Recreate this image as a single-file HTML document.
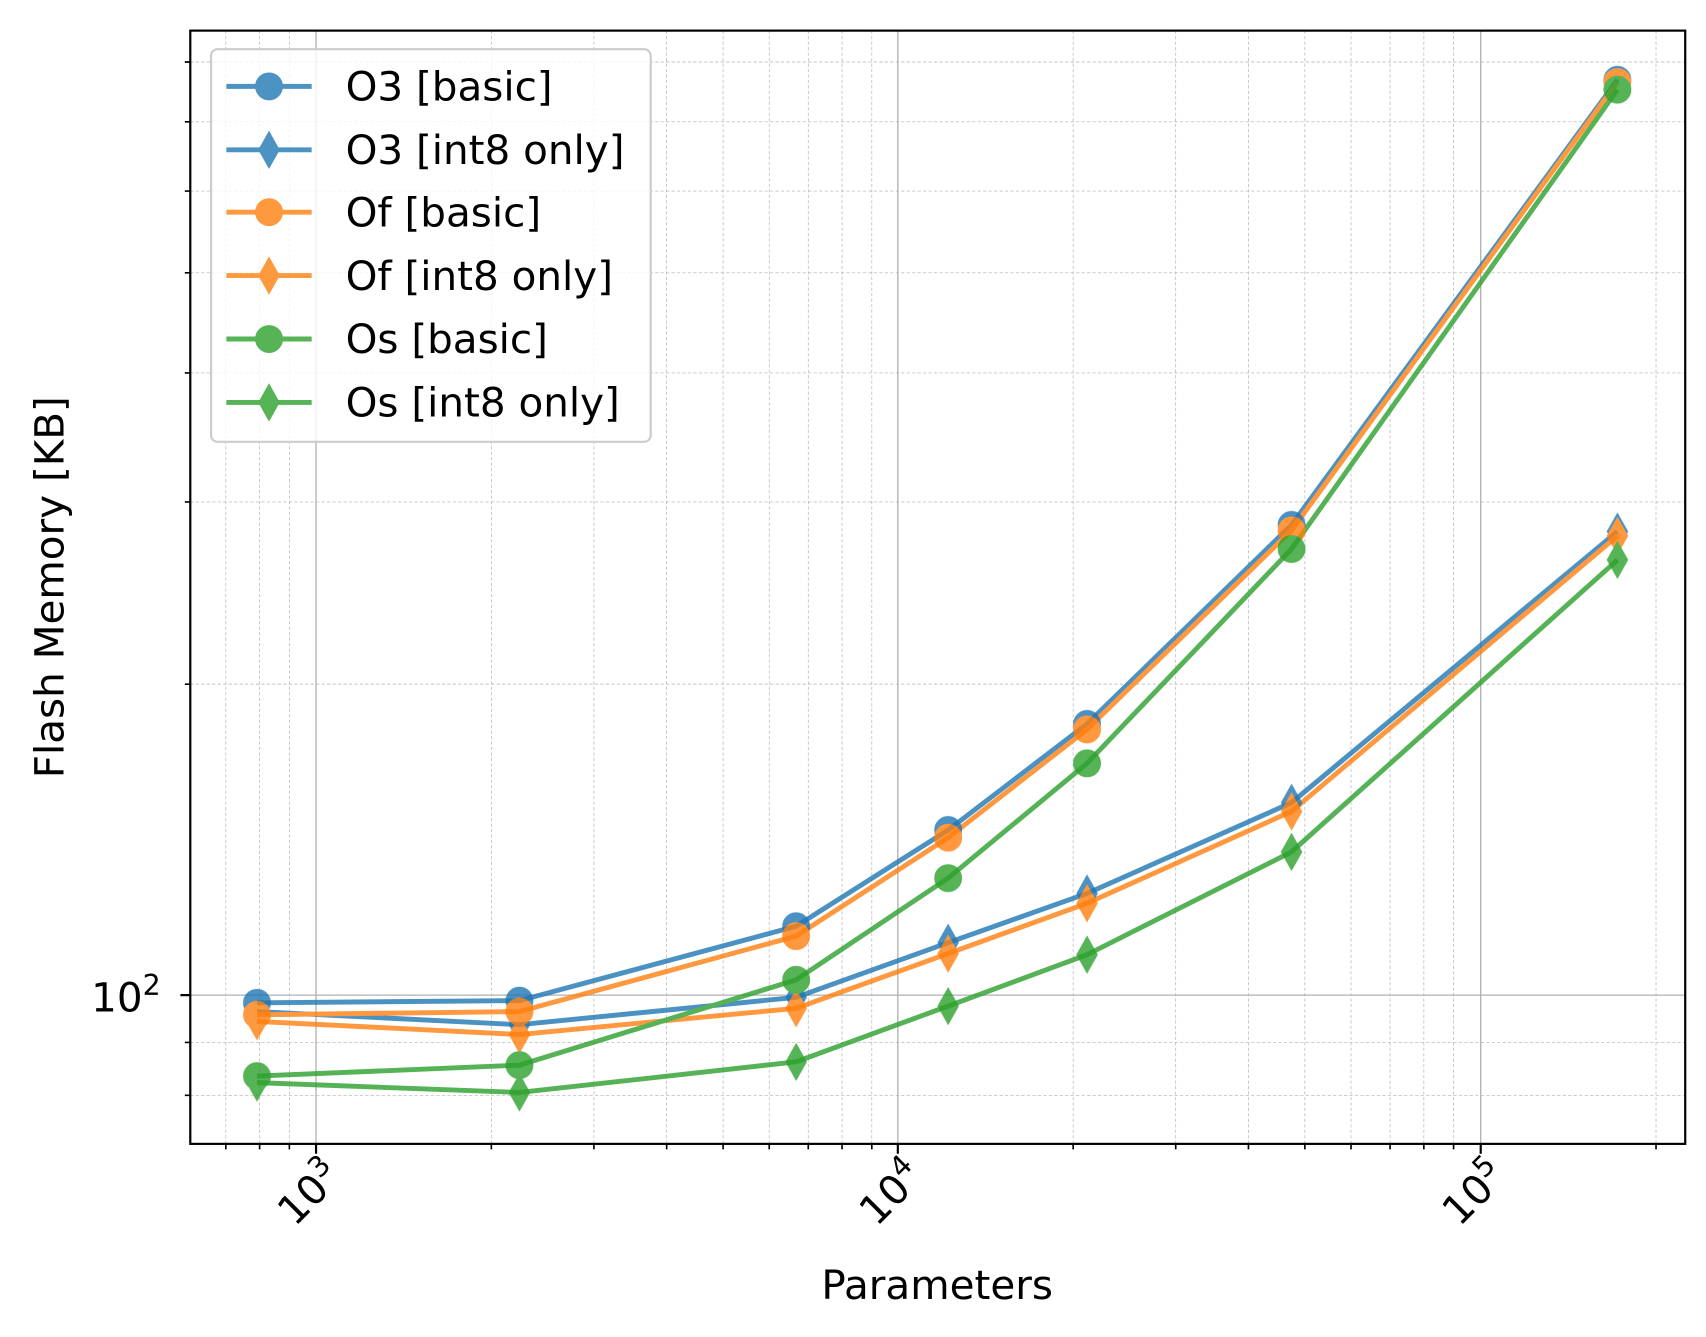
<!DOCTYPE html>
<html><head><meta charset="utf-8"><style>html,body{margin:0;padding:0;background:#fff}svg{display:block}</style></head>
<body>
<svg width="1706" height="1337" viewBox="0 0 1560 1222.6" preserveAspectRatio="none" xmlns="http://www.w3.org/2000/svg" font-family="DejaVu Sans, Liberation Sans, sans-serif">
<defs>
<clipPath id="c"><rect x="174" y="28" width="1367" height="1018"/></clipPath>
<g id="ci"><circle r="12"/></g>
<g id="di"><path d="M0,-16 L9,0 L0,16 L-9,0 Z"/></g>
</defs>
<rect width="1560" height="1222.6" fill="#fff"/>
<g stroke="#b0b0b0" stroke-width="0.6" stroke-dasharray="3,2" fill="none">
<path d="M206.5,28V1046M237.4,28V1046M264.6,28V1046
M449.3,28V1046M543.1,28V1046M609.6,28V1046M661.2,28V1046M703.4,28V1046M739.1,28V1046M770,28V1046M797.2,28V1046
M981.3,28V1046M1075.1,28V1046M1141.6,28V1046M1193.2,28V1046M1235.4,28V1046M1271.1,28V1046M1302,28V1046M1329.2,28V1046
M1514.3,28V1046"/>
<path d="M174,1001.6H1541M174,953.2H1541M174,625.6H1541M174,459H1541M174,341H1541M174,249.5H1541M174,174.7H1541M174,111.4H1541M174,56.7H1541"/>
</g>
<g stroke="#b0b0b0" stroke-width="1.2" fill="none">
<path d="M289,28V1046M821,28V1046M1354,28V1046M174,910H1541"/>
</g>
<g clip-path="url(#c)" stroke-width="4.5" stroke-linejoin="round" fill="none" opacity="0.8">
<g stroke="#1f77b4">
<polyline points="235,917 475,915 728,847 867,759 994,662 1181,480 1479,73"/>
<polyline points="235,925 475,937 728,912 867,862 994,817 1181,734 1479,486"/>
</g>
<g stroke="#ff7f0e">
<polyline points="235,928 475,925 728,856 867,766 994,667 1181,485 1479,75"/>
<polyline points="235,934 475,946 728,922 867,872 994,826 1181,742 1479,490"/>
</g>
<g stroke="#2ca02c">
<polyline points="235,984 475,974 728,896 867,803 994,698 1181,502 1479,82"/>
<polyline points="235,990 475,999 728,971 867,920 994,873 1181,779 1479,512"/>
</g>
</g>
<g clip-path="url(#c)" opacity="0.8" stroke-width="1.5">
<g fill="#1f77b4" stroke="#1f77b4">
<use href="#ci" x="235" y="917"/><use href="#ci" x="475" y="915"/><use href="#ci" x="728" y="847"/><use href="#ci" x="867" y="759"/><use href="#ci" x="994" y="662"/><use href="#ci" x="1181" y="480"/><use href="#ci" x="1479" y="73"/>
<use href="#di" x="235" y="925"/><use href="#di" x="475" y="937"/><use href="#di" x="728" y="912"/><use href="#di" x="867" y="862"/><use href="#di" x="994" y="817"/><use href="#di" x="1181" y="734"/><use href="#di" x="1479" y="486"/>
</g>
<g fill="#ff7f0e" stroke="#ff7f0e">
<use href="#ci" x="235" y="928"/><use href="#ci" x="475" y="925"/><use href="#ci" x="728" y="856"/><use href="#ci" x="867" y="766"/><use href="#ci" x="994" y="667"/><use href="#ci" x="1181" y="485"/><use href="#ci" x="1479" y="75"/>
<use href="#di" x="235" y="934"/><use href="#di" x="475" y="946"/><use href="#di" x="728" y="922"/><use href="#di" x="867" y="872"/><use href="#di" x="994" y="826"/><use href="#di" x="1181" y="742"/><use href="#di" x="1479" y="490"/>
</g>
<g fill="#2ca02c" stroke="#2ca02c">
<use href="#ci" x="235" y="984"/><use href="#ci" x="475" y="974"/><use href="#ci" x="728" y="896"/><use href="#ci" x="867" y="803"/><use href="#ci" x="994" y="698"/><use href="#ci" x="1181" y="502"/><use href="#ci" x="1479" y="82"/>
<use href="#di" x="235" y="990"/><use href="#di" x="475" y="999"/><use href="#di" x="728" y="971"/><use href="#di" x="867" y="920"/><use href="#di" x="994" y="873"/><use href="#di" x="1181" y="779"/><use href="#di" x="1479" y="512"/>
</g>
</g>
<rect x="174" y="28" width="1367" height="1018" fill="none" stroke="#000" stroke-width="2"/>
<g stroke="#000" stroke-width="1.5">
<path d="M289,1046v9M821,1046v9M1354,1046v9M174,910h-9" stroke-width="2"/>
<path d="M206.5,1046v5M237.4,1046v5M264.6,1046v5M449.3,1046v5M543.1,1046v5M609.6,1046v5M661.2,1046v5M703.4,1046v5M739.1,1046v5M770,1046v5M797.2,1046v5M981.3,1046v5M1075.1,1046v5M1141.6,1046v5M1193.2,1046v5M1235.4,1046v5M1271.1,1046v5M1302,1046v5M1329.2,1046v5M1514.3,1046v5"/>
<path d="M174,1001.6h-5M174,953.2h-5M174,625.6h-5M174,459h-5M174,341h-5M174,249.5h-5M174,174.7h-5M174,111.4h-5M174,56.7h-5"/>
</g>
<g font-size="37" fill="#000">
<text x="147" y="925" text-anchor="end">10<tspan dy="-15" font-size="26">2</tspan></text>
<text transform="translate(289,1066) rotate(-45)" text-anchor="end" x="10" y="26">10<tspan dy="-15" font-size="26">3</tspan></text>
<text transform="translate(821,1066) rotate(-45)" text-anchor="end" x="10" y="26">10<tspan dy="-15" font-size="26">4</tspan></text>
<text transform="translate(1354,1066) rotate(-45)" text-anchor="end" x="10" y="26">10<tspan dy="-15" font-size="26">5</tspan></text>
</g>
<text x="857" y="1188" font-size="37" text-anchor="middle">Parameters</text>
<text transform="translate(58,537) rotate(-90)" font-size="37" text-anchor="middle">Flash Memory [KB]</text>
<rect x="193" y="45" width="402" height="359" rx="6" fill="#fff" fill-opacity="0.8" stroke="#cccccc" stroke-width="2"/>
<g stroke-width="4.5" opacity="0.8">
<g stroke="#1f77b4" fill="#1f77b4"><path d="M207,79H285M207,137H285"/><use href="#ci" x="246" y="79" stroke-width="1.5"/><use href="#di" x="246" y="137" stroke-width="1.5"/></g>
<g stroke="#ff7f0e" fill="#ff7f0e"><path d="M207,194H285M207,252H285"/><use href="#ci" x="246" y="194" stroke-width="1.5"/><use href="#di" x="246" y="252" stroke-width="1.5"/></g>
<g stroke="#2ca02c" fill="#2ca02c"><path d="M207,310H285M207,368H285"/><use href="#ci" x="246" y="310" stroke-width="1.5"/><use href="#di" x="246" y="368" stroke-width="1.5"/></g>
</g>
<g font-size="37" fill="#000">
<text x="316" y="92">O3 [basic]</text>
<text x="316" y="150">O3 [int8 only]</text>
<text x="316" y="207">Of [basic]</text>
<text x="316" y="265">Of [int8 only]</text>
<text x="316" y="323">Os [basic]</text>
<text x="316" y="381">Os [int8 only]</text>
</g>
</svg>
</body></html>
